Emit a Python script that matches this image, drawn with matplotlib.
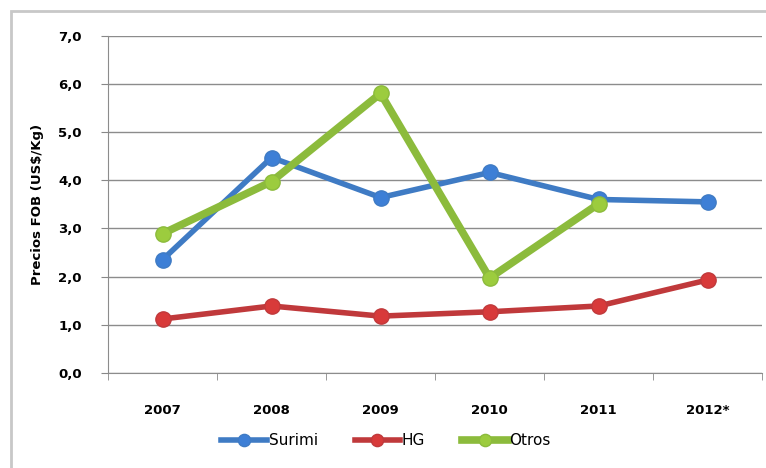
import matplotlib.pyplot as plt
from matplotlib.patches import Rectangle
from matplotlib.ticker import FuncFormatter

years = ["2007", "2008", "2009", "2010", "2011", "2012*"]
surimi = [2.35, 4.47, 3.64, 4.16, 3.60, 3.55]
hg = [1.12, 1.39, 1.18, 1.27, 1.39, 1.93]
otros = [2.89, 3.97, 5.80, 1.97, 3.51]

fig = plt.figure(figsize=(7.66, 4.68), dpi=100)
ax = fig.add_axes([0.141, 0.203, 0.854, 0.721])

# light frame round the chart area
fig.patches.append(Rectangle((11 / 766, -0.05), 1.0, 1 - 11 / 468 + 0.05,
                             transform=fig.transFigure, fill=False,
                             edgecolor="#c8c8c8", linewidth=2))

x = list(range(len(years)))
series = [
    (surimi, "Surimi", "#3f7bc4", "#3d7fd6", 4),
    (hg, "HG", "#c0393b", "#d83a3a", 4),
    (otros, "Otros", "#8cbb3c", "#9ccc3e", 5.5),
]
for values, name, col, face, lw in series:
    ax.plot(x[:len(values)], values, color=col, linewidth=lw, label=name,
            marker="o", markersize=11, markerfacecolor=face,
            markeredgecolor=col, markeredgewidth=1, zorder=3)

ax.set_xlim(-0.5, len(years) - 0.5)
ax.set_ylim(0, 7)
ax.set_yticks(range(0, 8))
ax.yaxis.set_major_formatter(FuncFormatter(lambda v, p: f"{v:.1f}".replace(".", ",")))
ax.set_xticks(x)
ax.set_xticklabels(years)
ax.set_xticks([i + 0.5 for i in range(-1, len(years))], minor=True)
ax.tick_params(axis="x", which="major", length=0, pad=22)
ax.tick_params(axis="x", which="minor", length=5, color="#888888", direction="out")
ax.tick_params(axis="y", length=5, color="#888888", pad=14)
for lab in ax.get_xticklabels() + ax.get_yticklabels():
    lab.set_fontweight("bold")
    lab.set_fontsize(9.5)

ax.grid(axis="y", color="#8c8c8c", linewidth=1)
ax.set_axisbelow(True)
for s in ["top", "right"]:
    ax.spines[s].set_visible(False)
ax.spines["left"].set_color("#8c8c8c")
ax.spines["bottom"].set_color("#8c8c8c")

ax.set_ylabel("Precios FOB (US$/Kg)", fontsize=9.5, fontweight="bold", labelpad=10)

ax.legend(loc="center", bbox_to_anchor=(0.425, -0.2), ncol=3,
          frameon=False, fontsize=11, handlelength=3.0, handletextpad=0.1,
          columnspacing=2.4, markerscale=0.8)

plt.savefig("out.png", dpi=100)
